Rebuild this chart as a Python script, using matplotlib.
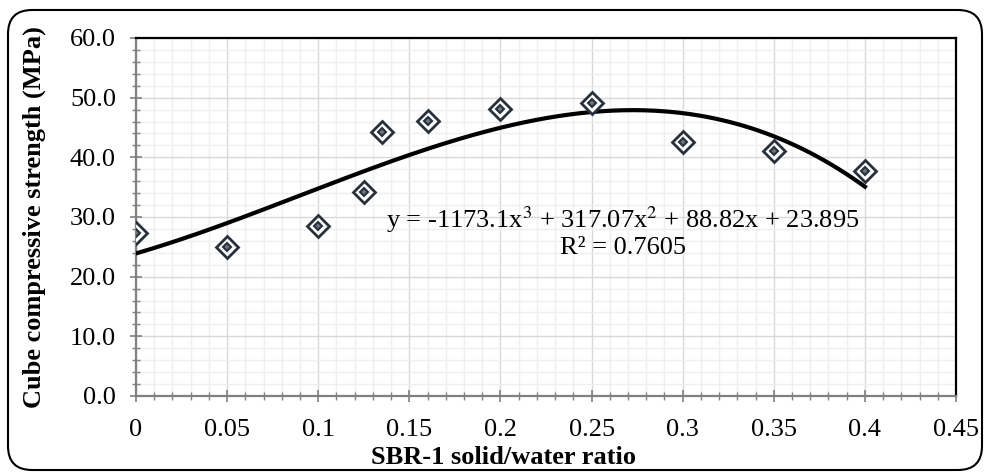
import numpy as np
import matplotlib
matplotlib.use("Agg")
import matplotlib.pyplot as plt
import matplotlib.ticker as mtick
from matplotlib.patches import FancyBboxPatch
from matplotlib.transforms import IdentityTransform

plt.rcParams["font.family"] = ["Liberation Serif", "DejaVu Serif"]
plt.rcParams["mathtext.fontset"] = "stix"

sbr_ratio = [0, 0.05, 0.1, 0.125, 0.135, 0.16, 0.2, 0.25, 0.3, 0.35, 0.4]
strength = [27.3, 25.0, 28.5, 34.2, 44.2, 46.1, 48.1, 49.1, 42.6, 41.0, 37.7]

# trendline coefficients as printed on the chart
coef = [-1173.1, 317.07, 88.82, 23.895]
r_squared = 0.7605

fig = plt.figure(figsize=(9.85, 4.73), dpi=100)
ax = fig.add_axes([0.1381, 0.1628, 0.8325, 0.7569])

ax.set_xlim(0, 0.45)
ax.set_ylim(0, 60)
ax.xaxis.set_major_locator(mtick.MultipleLocator(0.05))
ax.xaxis.set_minor_locator(mtick.MultipleLocator(0.01))
ax.yaxis.set_major_locator(mtick.MultipleLocator(10))
ax.yaxis.set_minor_locator(mtick.MultipleLocator(2))
ax.xaxis.set_major_formatter(mtick.FuncFormatter(lambda v, p: ("%.2f" % v).rstrip("0").rstrip(".") if v != 0 else "0"))
ax.yaxis.set_major_formatter(mtick.FormatStrFormatter("%.1f"))

ax.grid(True, which="major", color="#d9d9d9", linewidth=1.0)
ax.grid(True, which="minor", color="#efefef", linewidth=1.0)
ax.set_axisbelow(True)

ax.tick_params(which="major", direction="inout", length=9, width=1.2, color="#808080", labelsize=19)
ax.tick_params(which="minor", direction="inout", length=6, width=1.0, color="#808080")
ax.tick_params(axis="x", pad=12)
ax.tick_params(axis="y", pad=10)

for side in ["left", "bottom"]:
    ax.spines[side].set_color("#808080")
    ax.spines[side].set_linewidth(1.6)
for side in ["top", "right"]:
    ax.spines[side].set_color("black")
    ax.spines[side].set_linewidth(1.6)

xs = np.linspace(0, 0.4, 200)
ax.plot(xs, np.polyval(coef, xs), color="black", linewidth=3.0, zorder=3)

ax.plot(sbr_ratio, strength, linestyle="none", marker="D", markersize=11.5,
        markerfacecolor="white", markeredgecolor="#27303b", markeredgewidth=2.0, zorder=4)
ax.plot(sbr_ratio, strength, linestyle="none", marker="D", markersize=4,
        markerfacecolor="#6b7380", markeredgecolor="#27303b", markeredgewidth=1.5, zorder=5)

ax.text(0.267, 29.6, r"y = -1173.1x$^3$ + 317.07x$^2$ + 88.82x + 23.895",
        fontsize=19, ha="center", va="center")
ax.text(0.267, 24.8, "R² = %.4f" % r_squared, fontsize=19, ha="center", va="center")

ax.set_xlabel("SBR-1 solid/water ratio", fontsize=19, fontweight="bold", labelpad=4, x=0.448)
ax.set_ylabel("Cube compressive strength (MPa)", fontsize=19, fontweight="bold", labelpad=17)

frame = FancyBboxPatch((8, 3), 974, 460, boxstyle="round,pad=0,rounding_size=24",
                       transform=IdentityTransform(), facecolor="none",
                       edgecolor="black", linewidth=1.5)
fig.patches.append(frame)

fig.savefig("out.png", dpi=100)
